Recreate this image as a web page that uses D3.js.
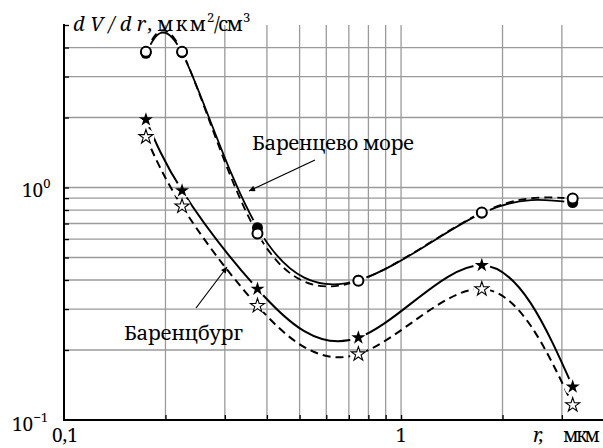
<!DOCTYPE html>
<html><head><meta charset="utf-8">
<script src="https://cdn.jsdelivr.net/npm/d3@7"></script>
<style>
body{margin:0;background:#fff}
</style>
</head><body>
<svg width="603" height="448"></svg>
<script>
// radii of the points, mkm
var radii = [0.175, 0.224, 0.375, 0.747, 1.736, 3.23];
// Barents sea: filled circles (solid) and open circles (dashed)
var seaFilled = [3.78, 3.80, 0.672, 0.399, 0.776, 0.862];
var seaOpen   = [3.84, 3.84, 0.634, 0.397, 0.78, 0.897];
// Barentsburg: filled stars (solid) and open stars (dashed)
var burgFilled = [1.96, 0.97, 0.366, 0.226, 0.463, 0.139];
var burgOpen   = [1.65, 0.83, 0.31, 0.192, 0.366, 0.116];

var xGrid = [0.2, 0.3, 0.4, 0.5, 0.6, 0.7, 0.8, 0.9, 1, 2, 3];
var yGrid = [0.2, 0.3, 0.4, 0.5, 0.6, 0.7, 0.8, 0.9, 1, 2, 3, 4];

var svg = d3.select("svg").style("display", "block")
  .attr("font-family", "'Noto Serif', 'Liberation Serif', serif");
var x = d3.scaleLog().domain([0.1, 4]).range([64, 604]);
var y = d3.scaleLog().domain([0.1, 5]).range([420, 25]);

function pts(vals) {
  return vals.map(function(v, i) { return [radii[i], v]; });
}

// grid
svg.append("g").selectAll("line").data(xGrid).enter().append("line")
  .attr("x1", function(d) { return x(d); }).attr("x2", function(d) { return x(d); })
  .attr("y1", y(5)).attr("y2", y(0.1))
  .attr("stroke", "#9a9a9a").attr("stroke-width", 1.3);
svg.append("g").selectAll("line").data(yGrid).enter().append("line")
  .attr("y1", function(d) { return y(d); }).attr("y2", function(d) { return y(d); })
  .attr("x1", x(0.1)).attr("x2", 603)
  .attr("stroke", "#9a9a9a").attr("stroke-width", 1.3);

// axes (ticks pointing inward)
var xAxis = d3.axisTop(x).tickValues(xGrid).tickSize(5).tickFormat("");
svg.append("g").attr("transform", "translate(0," + y(0.1) + ")").call(xAxis)
  .call(function(g) { g.select(".domain").remove(); g.selectAll("line").attr("stroke-width", 1.3); });
var yAxis = d3.axisRight(y).tickValues(yGrid.concat([5])).tickSize(5).tickFormat("");
svg.append("g").attr("transform", "translate(" + x(0.1) + ",0)").call(yAxis)
  .call(function(g) { g.select(".domain").remove(); g.selectAll("line").attr("stroke-width", 1.3); });
svg.append("line").attr("x1", x(0.1)).attr("x2", x(0.1)).attr("y1", y(5) - 1).attr("y2", y(0.1) + 1)
  .attr("stroke", "#000").attr("stroke-width", 2);
svg.append("line").attr("x1", x(0.1)).attr("x2", 603).attr("y1", y(0.1)).attr("y2", y(0.1))
  .attr("stroke", "#000").attr("stroke-width", 2);

// mask to break the curves around the markers
var all = pts(seaFilled).concat(pts(seaOpen), pts(burgFilled), pts(burgOpen));
var mask = svg.append("defs").append("mask").attr("id", "gap");
mask.append("rect").attr("width", 603).attr("height", 448).attr("fill", "#fff");
mask.selectAll("circle").data(all).enter().append("circle")
  .attr("cx", function(d) { return x(d[0]); }).attr("cy", function(d) { return y(d[1]); })
  .attr("r", 8.5).attr("fill", "#000");

var line = d3.line().x(function(d) { return x(d[0]); }).y(function(d) { return y(d[1]); })
  .curve(d3.curveNatural);

var curves = svg.append("g").attr("mask", "url(#gap)").attr("fill", "none").attr("stroke", "#000");
curves.append("path").attr("d", line(pts(seaFilled))).attr("stroke-width", 1.8);
curves.append("path").attr("d", line(pts(seaOpen))).attr("stroke-width", 1.8).attr("stroke-dasharray", "8,5");
curves.append("path").attr("d", line(pts(burgFilled))).attr("stroke-width", 2);
curves.append("path").attr("d", line(pts(burgOpen))).attr("stroke-width", 2).attr("stroke-dasharray", "8,5");

// markers
svg.append("g").selectAll("circle").data(pts(seaFilled)).enter().append("circle")
  .attr("cx", function(d) { return x(d[0]); }).attr("cy", function(d) { return y(d[1]); })
  .attr("r", 5.5).attr("fill", "#000");
svg.append("g").selectAll("circle").data(pts(seaOpen)).enter().append("circle")
  .attr("cx", function(d) { return x(d[0]); }).attr("cy", function(d) { return y(d[1]); })
  .attr("r", 5).attr("fill", "#fff").attr("stroke", "#000").attr("stroke-width", 2);

var star = d3.symbol().type(d3.symbolStar).size(62);
svg.append("g").selectAll("path").data(pts(burgFilled)).enter().append("path")
  .attr("transform", function(d) { return "translate(" + x(d[0]) + "," + y(d[1]) + ")"; })
  .attr("d", star).attr("fill", "#000");
svg.append("g").selectAll("path").data(pts(burgOpen)).enter().append("path")
  .attr("transform", function(d) { return "translate(" + x(d[0]) + "," + y(d[1]) + ")"; })
  .attr("d", star).attr("fill", "#fff").attr("stroke", "#000").attr("stroke-width", 1.1);

// annotations
svg.append("defs").append("marker").attr("id", "arr").attr("viewBox", "0 0 10 10")
  .attr("refX", 10).attr("refY", 5).attr("markerWidth", 9).attr("markerHeight", 6)
  .attr("markerUnits", "userSpaceOnUse").attr("orient", "auto")
  .append("path").attr("d", "M0,0L10,5L0,10z").attr("fill", "#000");
svg.append("line").attr("x1", 315).attr("y1", 160).attr("x2", 249).attr("y2", 191)
  .attr("stroke", "#000").attr("stroke-width", 1.2).attr("marker-end", "url(#arr)");
svg.append("line").attr("x1", 196).attr("y1", 308).attr("x2", 227).attr("y2", 267)
  .attr("stroke", "#000").attr("stroke-width", 1.2).attr("marker-end", "url(#arr)");

svg.append("text").attr("x", 252).attr("y", 150).attr("font-size", 20.5)
  .attr("textLength", 162).attr("lengthAdjust", "spacing").text("Баренцево море");
svg.append("text").attr("x", 124).attr("y", 340).attr("font-size", 20.5)
  .attr("textLength", 119).attr("lengthAdjust", "spacing").text("Баренцбург");

// tick labels
var t0 = svg.append("text").attr("x", 22).attr("y", 197).attr("font-size", 19);
t0.append("tspan").text("10");
t0.append("tspan").attr("dy", -9).attr("font-size", 13).text("0");
var t1 = svg.append("text").attr("x", 12).attr("y", 431).attr("font-size", 19);
t1.append("tspan").text("10");
t1.append("tspan").attr("dy", -9).attr("font-size", 13).text("−1");
svg.append("text").attr("x", 52).attr("y", 442).attr("font-size", 19).text("0,1");
svg.append("text").attr("x", x(1)).attr("y", 442).attr("font-size", 19).attr("text-anchor", "middle").text("1");
svg.append("text").attr("x", 533).attr("y", 442).attr("font-size", 20).attr("font-style", "italic").text("r,");
svg.append("text").attr("x", 563).attr("y", 442).attr("font-size", 19)
  .attr("textLength", 37).attr("lengthAdjust", "spacing").text("мкм");

// axis title
svg.append("text").attr("x", 73).attr("y", 31).attr("font-size", 20).attr("font-style", "italic")
  .attr("textLength", 80).attr("lengthAdjust", "spacing").text("dV/dr,");
svg.append("text").attr("x", 157).attr("y", 31).attr("font-size", 20)
  .attr("textLength", 49).attr("lengthAdjust", "spacing").text("мкм");
svg.append("text").attr("x", 207).attr("y", 22).attr("font-size", 13).text("2");
svg.append("text").attr("x", 214).attr("y", 31).attr("font-size", 20)
  .attr("textLength", 29).attr("lengthAdjust", "spacing").text("/см");
svg.append("text").attr("x", 243).attr("y", 22).attr("font-size", 13).text("3");
</script>
</body></html>
